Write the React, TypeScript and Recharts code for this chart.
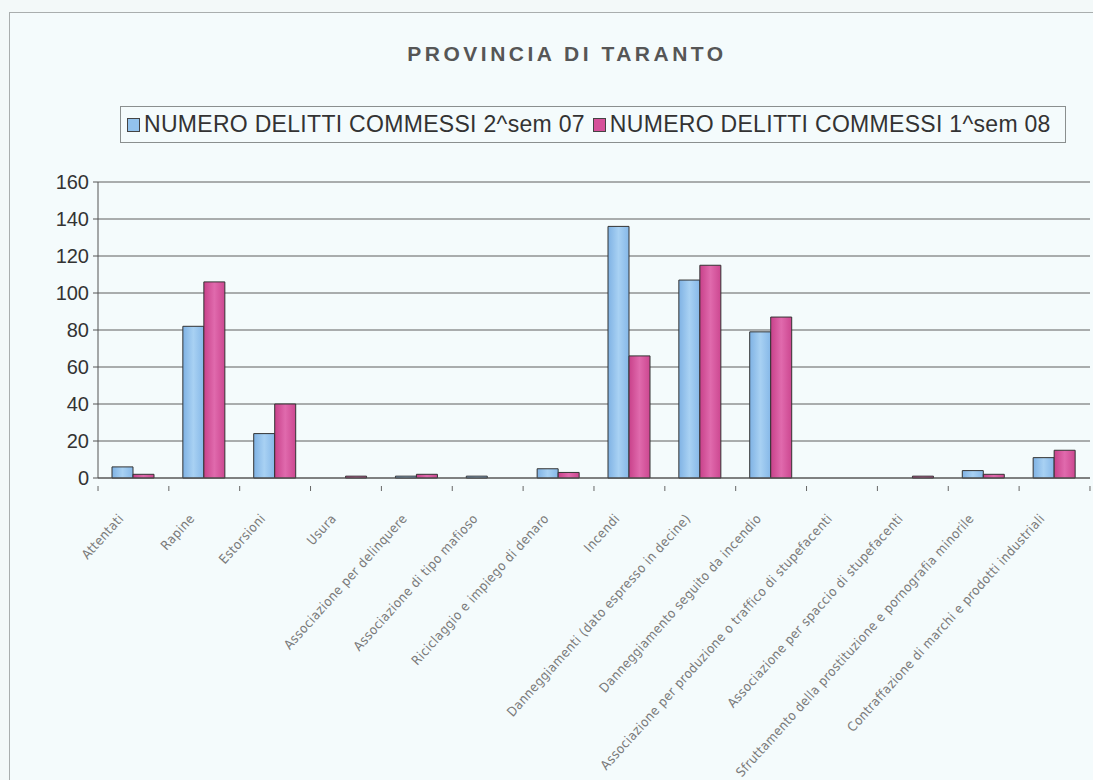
import React from 'react';
import { BarChart, Bar, XAxis, YAxis, CartesianGrid } from 'recharts';

const categories = [
  'Attentati',
  'Rapine',
  'Estorsioni',
  'Usura',
  'Associazione per delinquere',
  'Associazione di tipo mafioso',
  'Riciclaggio e impiego di denaro',
  'Incendi',
  'Danneggiamenti (dato espresso in decine)',
  'Danneggiamento seguito da incendio',
  'Associazione per produzione o traffico di stupefacenti',
  'Associazione per spaccio di stupefacenti',
  'Sfruttamento della prostituzione e pornografia minorile',
  'Contraffazione di marchi e prodotti industriali',
];

const sem207 = [6, 82, 24, 0, 1, 1, 5, 136, 107, 79, 0, 0, 4, 11];
const sem108 = [2, 106, 40, 1, 2, 0, 3, 66, 115, 87, 0, 1, 2, 15];

const seriesNames = ['NUMERO DELITTI COMMESSI 2^sem 07', 'NUMERO DELITTI COMMESSI 1^sem 08'];
const yTicks = [0, 20, 40, 60, 80, 100, 120, 140, 160];

const BLUE = '#92c2ec';
const MAGENTA = '#d5519a';

const data = categories.map((name, i) => ({
  name,
  a: sem207[i],
  b: sem108[i],
}));

const CategoryTick = (props: any) => {
  const { x, y, payload, index } = props;
  const half = 35.4;
  const tx = x - 9;
  const ty = y + 33;
  return (
    <g>
      <line x1={x + half} y1={y} x2={x + half} y2={y + 5} stroke="#666" />
      {index === 0 && <line x1={x - half} y1={y} x2={x - half} y2={y + 5} stroke="#666" />}
      <text
        x={tx}
        y={ty}
        textAnchor="end"
        transform={`rotate(-48, ${tx}, ${ty})`}
        fontSize={13}
        letterSpacing={0.45}
        fontFamily="'DejaVu Sans Condensed', 'Liberation Sans Narrow', sans-serif"
        fill="#7a7a7a"
      >
        {payload.value}
      </text>
    </g>
  );
};

export default function App() {
  return (
    <div
      style={{
        position: 'fixed',
        left: 0,
        top: 0,
        width: 1093,
        height: 780,
        background: '#f3f9f9',
        overflow: 'hidden',
      }}
    >
      <div
        style={{
          position: 'absolute',
          left: 9,
          top: 12,
          width: 1100,
          height: 800,
          border: '1px solid #a9aeae',
          background: '#f4fbfc',
        }}
      />
      <div
        style={{
          position: 'absolute',
          left: 0,
          top: 42,
          width: 1134,
          textAlign: 'center',
          fontFamily: "'Liberation Sans', Arial, sans-serif",
          fontWeight: 'bold',
          fontSize: 21,
          letterSpacing: 3.5,
          color: '#565656',
        }}
      >
        PROVINCIA DI TARANTO
      </div>
      <div
        style={{
          position: 'absolute',
          left: 120,
          top: 106,
          width: 946,
          height: 37,
          border: '1px solid #8a8f8f',
          boxSizing: 'border-box',
          display: 'flex',
          alignItems: 'center',
          paddingLeft: 6,
          fontFamily: "'Liberation Sans', Arial, sans-serif",
          fontSize: 23,
          letterSpacing: 0.3,
          color: '#333',
          whiteSpace: 'nowrap',
        }}
      >
        {seriesNames.map((n, i) => (
          <span key={n} style={{ display: 'inline-flex', alignItems: 'center', marginRight: 8 }}>
            <span
              style={{
                display: 'inline-block',
                width: 11,
                height: 12,
                border: '1px solid #444',
                background: i === 0 ? BLUE : MAGENTA,
                marginRight: 4,
              }}
            />
            {n}
          </span>
        ))}
      </div>
      <div style={{ position: 'absolute', left: 0, top: 0 }}>
        <BarChart
          width={1093}
          height={780}
          data={data}
          margin={{ top: 182, right: 3, left: 0, bottom: 0 }}
          barGap={0}
          barSize={21}
        >
          <defs>
            <linearGradient id="gBlue" x1="0" y1="0" x2="1" y2="0">
              <stop offset="0%" stopColor="#7fb2e4" />
              <stop offset="50%" stopColor="#a8d1f3" />
              <stop offset="100%" stopColor="#86b8e8" />
            </linearGradient>
            <linearGradient id="gMag" x1="0" y1="0" x2="1" y2="0">
              <stop offset="0%" stopColor="#c8418a" />
              <stop offset="50%" stopColor="#e06aad" />
              <stop offset="100%" stopColor="#cc4790" />
            </linearGradient>
          </defs>
          <CartesianGrid vertical={false} stroke="#5e5e5e" strokeWidth={1} />
          <XAxis
            dataKey="name"
            interval={0}
            tick={<CategoryTick />}
            tickLine={false}
            axisLine={{ stroke: '#555' }}
            height={302}
          />
          <YAxis
            width={98}
            domain={[0, 160]}
            ticks={yTicks}
            interval={0}
            axisLine={{ stroke: '#555' }}
            tickLine={{ stroke: '#555' }}
            tickSize={5}
            tick={{ fill: '#333', fontSize: 20, fontFamily: "'Liberation Sans', Arial, sans-serif" }}
            tickMargin={4}
          />
          <Bar dataKey="a" name={seriesNames[0]} fill="url(#gBlue)" stroke="#333" strokeWidth={1} isAnimationActive={false} />
          <Bar dataKey="b" name={seriesNames[1]} fill="url(#gMag)" stroke="#333" strokeWidth={1} isAnimationActive={false} />
        </BarChart>
      </div>
    </div>
  );
}
